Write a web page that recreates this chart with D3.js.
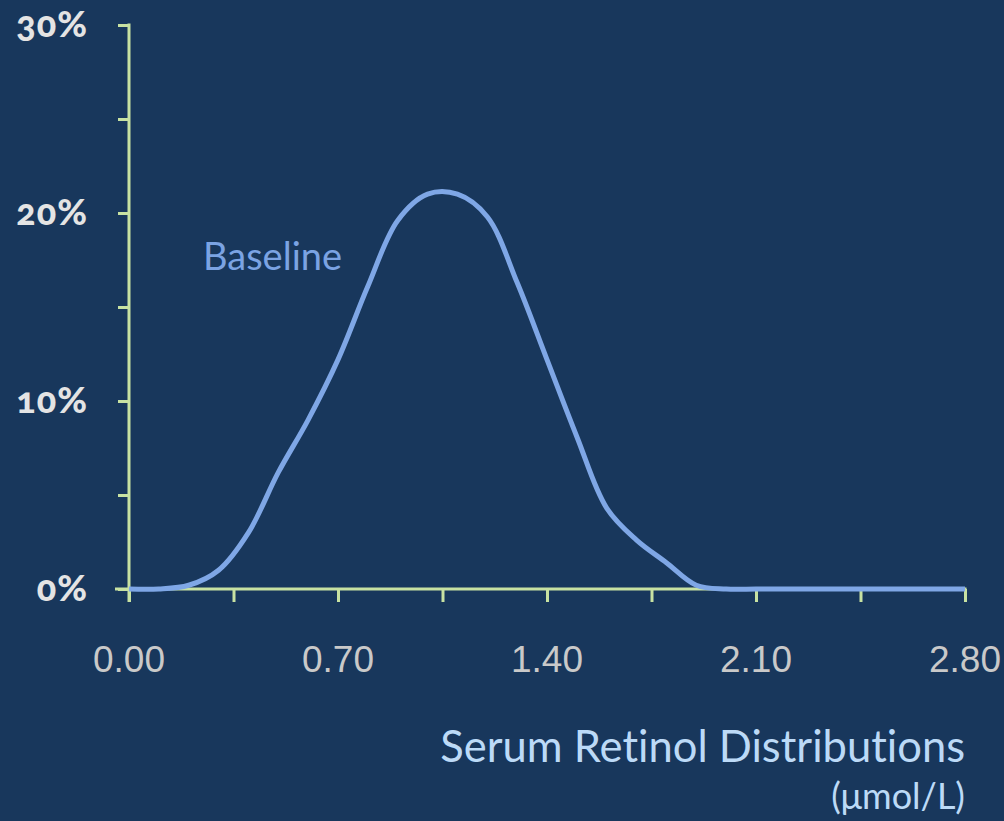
<!DOCTYPE html>
<meta charset="utf-8">
<script src="https://d3js.org/d3.v7.min.js"></script>
<style>
  body { margin: 0; background: #18375c; }
  svg { display: block; }
</style>
<body>
<div id="my_dataviz"></div>
<script>

// serum retinol (umol/L) and share of population (%)
const retinol = [0.0, 0.1, 0.2, 0.3, 0.4, 0.5, 0.6, 0.7, 0.8, 0.9, 1.0, 1.1, 1.2, 1.3, 1.4,
                 1.5, 1.6, 1.7, 1.8, 1.9, 2.0, 2.1, 2.2, 2.3, 2.4, 2.5, 2.6, 2.7, 2.8];
const baseline = [0, 0, 0.2, 1.0, 3.0, 6.2, 9.0, 12.2, 16.1, 19.6, 21.0, 21.0, 19.8, 16.3, 12.2,
                  8.1, 4.3, 2.6, 1.4, 0.2, 0, 0, 0, 0, 0, 0, 0, 0, 0];
const xTicks = [0, 0.35, 0.7, 1.05, 1.4, 1.75, 2.1, 2.45, 2.8];
const xLabels = [0, 0.7, 1.4, 2.1, 2.8];
const yTicks = [0, 5, 10, 15, 20, 25, 30];
const yLabels = [0, 10, 20, 30];

const data = retinol.map((r, i) => ({ x: r, y: baseline[i] }));

const width = 1004, height = 821;
const axisColor = "#c8e2a2";

const svg = d3.select("#my_dataviz")
  .append("svg")
    .attr("width", width)
    .attr("height", height);

svg.append("rect")
  .attr("width", width)
  .attr("height", height)
  .attr("fill", "#18375c");

const x = d3.scaleLinear().domain([0, 2.8]).range([129, 965]);
const y = d3.scaleLinear().domain([0, 30]).range([589, 25]);

// Y axis (ticks only, labels drawn separately)
const yAxis = svg.append("g")
  .attr("transform", `translate(${x(0)},0)`)
  .call(d3.axisLeft(y).tickValues(yTicks).tickSize(11).tickSizeOuter(0).tickFormat(""));

// X axis
const xAxis = svg.append("g")
  .attr("transform", `translate(0,${y(0)})`)
  .call(d3.axisBottom(x).tickValues(xTicks).tickSize(13).tickSizeOuter(0).tickFormat(""));

[yAxis, xAxis].forEach(a => {
  a.select(".domain").attr("stroke", axisColor).attr("stroke-width", 3);
  a.selectAll(".tick line").attr("stroke", axisColor).attr("stroke-width", 3);
});
// let the y axis reach down through the x axis
yAxis.select(".domain").attr("d", `M0,${y(30) - 1.5}V${y(0) + 13}`);
xAxis.select(".domain").attr("d", `M${x(0) - 14},0H${x(2.8) + 1.5}`);

// y labels
svg.append("g")
  .selectAll("text")
  .data(yLabels)
  .join("text")
    .attr("x", 88)
    .attr("y", d => y(d) + 3)
    .attr("text-anchor", "end")
    .attr("dominant-baseline", "middle")
    .attr("fill", "#e4e4e4")
    .style("font-family", "Lato, sans-serif")
    .style("font-weight", "900")
    .style("font-size", "36px")
    .style("letter-spacing", "1px")
    .style("font-variant-numeric", "oldstyle-nums")
    .text(d => d + "%");

// x labels
svg.append("g")
  .selectAll("text")
  .data(xLabels)
  .join("text")
    .attr("x", d => x(d))
    .attr("y", 672)
    .attr("text-anchor", "middle")
    .attr("fill", "#c9c9c9")
    .style("font-family", "'Liberation Sans', sans-serif")
    .style("font-size", "37px")
    .text(d => d.toFixed(2));

// the curve
svg.append("path")
  .datum(data)
  .attr("fill", "none")
  .attr("stroke", "#7fa7e6")
  .attr("stroke-width", 5)
  .attr("stroke-linejoin", "round")
  .attr("d", d3.line()
    .x(d => x(d.x))
    .y(d => y(d.y))
    .curve(d3.curveCatmullRom.alpha(0.5)));

svg.append("text")
  .attr("x", 203)
  .attr("y", 270)
  .attr("fill", "#7ba3e3")
  .style("font-family", "Lato, sans-serif")
  .style("font-size", "38px")
  .text("Baseline");

// titles
svg.append("text")
  .attr("x", 965)
  .attr("y", 762)
  .attr("text-anchor", "end")
  .attr("fill", "#bcdaf7")
  .style("font-family", "Lato, sans-serif")
  .style("font-size", "43.5px")
  .style("font-variant-ligatures", "none")
  .text("Serum Retinol Distributions");

svg.append("text")
  .attr("x", 965)
  .attr("y", 809)
  .attr("text-anchor", "end")
  .attr("fill", "#bcdaf7")
  .style("font-family", "Lato, sans-serif")
  .style("font-size", "36px")
  .text("(μmol/L)");

</script>
</body>
